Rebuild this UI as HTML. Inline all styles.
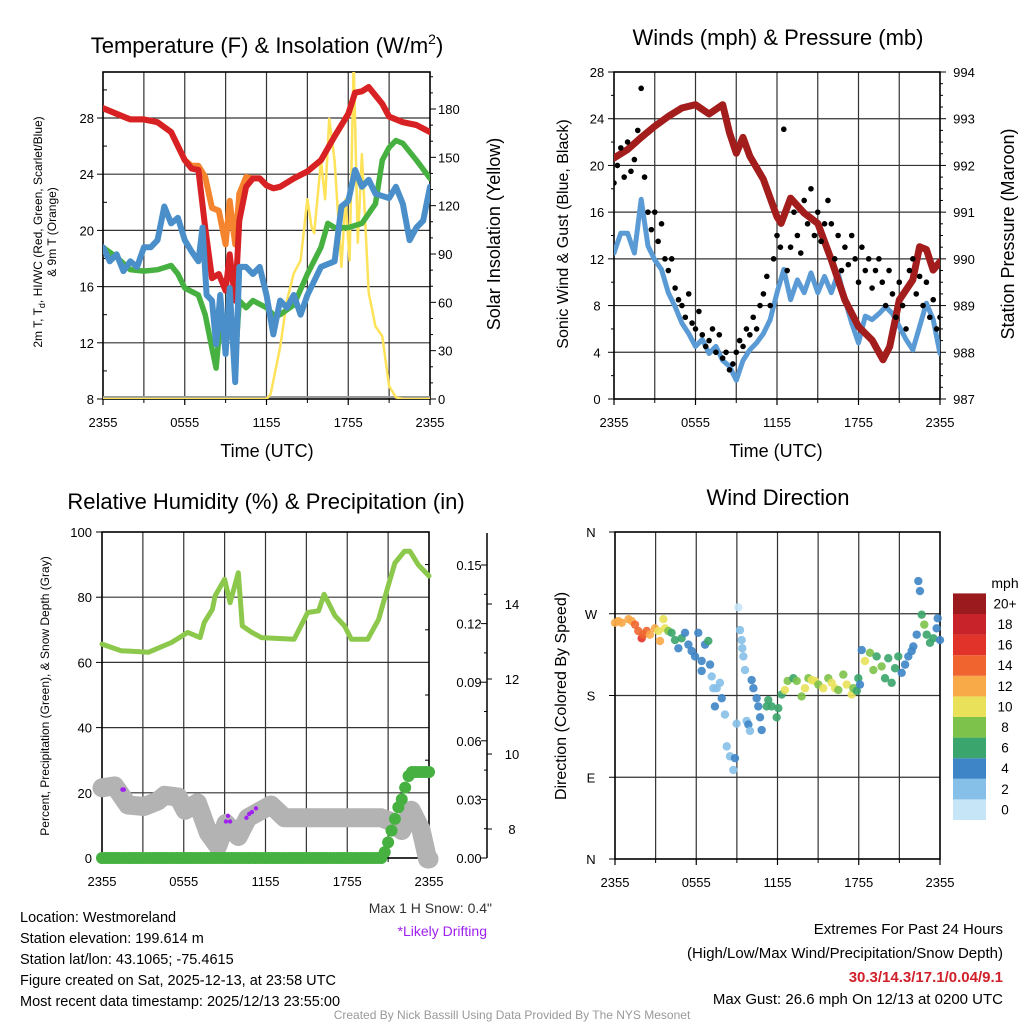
<!DOCTYPE html>
<html><head><meta charset="utf-8"><style>
html,body{margin:0;padding:0;background:#fff;}
svg{display:block;}
text{font-family:"Liberation Sans",sans-serif;}
</style></head><body>
<svg id="s" width="1024" height="1024" viewBox="0 0 1024 1024">
<defs>
<clipPath id="c1"><rect x="103" y="72" width="327" height="327"/></clipPath>
<clipPath id="c2"><rect x="614" y="72" width="326" height="327"/></clipPath>
<clipPath id="c3"><rect x="90" y="520" width="360" height="350"/></clipPath>
</defs>
<text x="267" y="53" font-size="22" text-anchor="middle">Temperature (F) &amp; Insolation (W/m<tspan font-size="14" dy="-9">2</tspan><tspan dy="9">)</tspan></text>
<text x="778" y="45" font-size="22" text-anchor="middle">Winds (mph) &amp; Pressure (mb)</text>
<text x="266" y="509" font-size="22" text-anchor="middle">Relative Humidity (%) &amp; Precipitation (in)</text>
<text x="778" y="505" font-size="22" text-anchor="middle">Wind Direction</text>
<text x="267" y="457" font-size="18" text-anchor="middle">Time (UTC)</text>
<text x="776" y="457" font-size="18" text-anchor="middle">Time (UTC)</text>
<text transform="translate(42,232) rotate(-90)" font-size="12" text-anchor="middle">2m T, T<tspan font-size="9" dy="3">d</tspan><tspan dy="-3">, HI/WC (Red, Green, Scarlet/Blue)</tspan></text>
<text transform="translate(56,232) rotate(-90)" font-size="12" text-anchor="middle">&amp; 9m T (Orange)</text>
<text transform="translate(500,234) rotate(-90)" font-size="18" text-anchor="middle">Solar Insolation (Yellow)</text>
<text transform="translate(568,234) rotate(-90)" font-size="16" text-anchor="middle">Sonic Wind &amp; Gust (Blue, Black)</text>
<text transform="translate(1014,234) rotate(-90)" font-size="18" text-anchor="middle">Station Pressure (Maroon)</text>
<text transform="translate(49,696) rotate(-90)" font-size="12" text-anchor="middle">Percent, Precipitation (Green), &amp; Snow Depth (Gray)</text>
<text transform="translate(566,696) rotate(-90)" font-size="16" text-anchor="middle">Direction (Colored By Speed)</text>
<text x="492" y="913" font-size="14" text-anchor="end" fill="#333">Max 1 H Snow: 0.4"</text>
<text x="487" y="936" font-size="14" text-anchor="end" fill="#a020f0">*Likely Drifting</text>
<g font-size="14.5">
<text x="20" y="922">Location: Westmoreland</text>
<text x="20" y="943">Station elevation: 199.614 m</text>
<text x="20" y="964">Station lat/lon: 43.1065; -75.4615</text>
<text x="20" y="985">Figure created on Sat, 2025-12-13, at 23:58 UTC</text>
<text x="20" y="1006">Most recent data timestamp: 2025/12/13 23:55:00</text>
</g>
<g font-size="15" text-anchor="end">
<text x="1003" y="934">Extremes For Past 24 Hours</text>
<text x="1003" y="958">(High/Low/Max Wind/Precipitation/Snow Depth)</text>
<text x="1003" y="982" fill="#d0202a" font-weight="bold">30.3/14.3/17.1/0.04/9.1</text>
<text x="1003" y="1004">Max Gust: 26.6 mph On 12/13 at 0200 UTC</text>
</g>
<text x="512" y="1019" font-size="12" text-anchor="middle" fill="#999">Created By Nick Bassill Using Data Provided By The NYS Mesonet</text>
<text x="1005" y="588" font-size="14" text-anchor="middle">mph</text>
</svg>
<script>
const NS='http://www.w3.org/2000/svg';
const svg=document.getElementById('s');
// ---------- data ----------
const xTickLabels=['2355','0555','1155','1755','2355'];
const tempTimes=[0,1,2,3,4,5,6,6.5,7,7.5,8,8.5,9,9.3,9.7,10,10.5,11,11.5,12,12.5,13,14,15,16,17,18,18.5,19,19.5,20,20.5,21,22,23,24];
const redTemp=[28.7,28.3,27.9,27.9,27.7,27.0,25.0,24.4,24.3,20.2,16.6,16.9,15.7,18.3,15.0,20.7,23.1,23.7,23.7,23.2,23.0,23.1,23.7,24.2,25.0,26.7,28.3,29.8,29.9,30.2,29.6,29.0,28.1,27.7,27.5,27.0];
const orangeTemp=[28.7,28.3,27.9,27.9,27.7,27.0,25.0,24.6,24.6,23.8,21.6,21.4,19.0,22.1,19.0,22.6,23.8,23.7,23.7,23.2,23.0,23.1,23.7,24.2,25.0,26.7,28.3,29.8,29.9,30.2,29.6,29.0,28.1,27.7,27.5,27.0];
const greenTimes=[0,1,2,3,4,5,5.5,6,7,7.5,8,8.3,8.6,9,9.3,9.7,10,10.5,11,12,12.5,13,14,15,16,16.5,17,18,19,20,20.5,21,21.5,22,23,24];
const greenTemp=[18.8,18.1,17.2,17.1,17.2,17.5,16.9,15.9,15.4,14.0,11.6,10.2,13.5,12.3,14.0,10.7,15.0,14.5,15.0,14.5,14.0,14.0,14.7,16.9,18.8,20.5,20.2,20.2,20.5,21.9,25.0,25.9,26.4,26.2,25.0,23.7];
const blueTimes=[0,0.5,1,1.5,2,2.5,3,3.5,4,4.5,5,5.5,6,6.5,7,7.3,7.6,8,8.3,8.6,9,9.3,9.7,10,10.5,11,11.5,12,12.5,13,13.5,14,14.5,15,15.5,16,17,17.5,18,18.5,19,19.5,20,21,21.5,22,22.5,23,23.5,24];
const blueTemp=[18.8,17.8,18.3,17.1,17.8,17.4,18.8,18.8,19.3,21.7,20.5,20.9,19.3,18.5,17.8,20.2,15.4,15.0,11.9,15.4,11.2,15.9,9.2,17.4,17.4,16.9,17.4,15.4,12.6,15.0,14.5,15.4,14.0,15.4,16.4,17.4,17.8,21.7,22.1,24.3,23.1,23.6,22.6,22.3,23.1,21.9,19.3,20.2,20.7,23.1];
const solarTimes=[0,12,12.3,13,13.5,14,14.5,15,15.3,15.5,16,16.3,16.6,17,17.5,17.8,18.1,18.4,18.7,19,19.5,20,20.5,21,21.5,22,24];
const solarVals=[0,0,3,32,61,78,86,124,107,103,148,124,174,148,82,124,86,210,97,152,66,45,39,8,1,0,0];
const tempTicks=[8,12,16,20,24,28];
const solarTicks=[0,30,60,90,120,150,180];
const windVals=[12.5,14.2,14.2,12.5,17.1,13.1,11.9,11.1,9.1,7.9,6.5,5.6,4.5,5.1,3.9,4.5,3.3,2.8,1.6,3.3,4.2,4.8,5.6,6.8,9.1,11.1,8.5,10.2,9.1,10.8,9.1,10.5,9.1,10.8,8.5,6.5,4.8,7.1,6.8,7.3,7.9,7.3,6.2,5.1,4.2,6.2,8.2,6.8,3.9];
const gustVals=[18.5,20,21.5,19,22,19.5,20.5,23,26.6,19,16,14.5,16,13.5,15,12,11,12,9.5,8.5,8,7,9,6.5,6,7.5,5.5,4.5,5,6,4,5.5,3.5,4,2.5,3,4,5,4.5,6,5.5,7,6,8,9,10.5,8,12,14,13,23.1,11,13,16,14,12.5,17,15,18,14,16,13.5,15,17,15,12,14,11,13,11.5,14,12,10,13,11,12,9.5,11,12,10,8,11,9,7,10,8,6,11,12,9,10.5,8,10,7,8.5,6,7];
const pressTimes=[0,1,2,3,4,5,6,7,8,8.5,9,9.5,10,11,12,12.3,13,14,15,16,17,18,19,19.8,20.3,21,22,22.5,23,23.5,24];
const pressVals=[992.16,992.34,992.6,992.84,993.05,993.23,993.3,993.1,993.3,992.7,992.26,992.6,992.2,991.7,990.9,990.76,991.3,990.98,990.76,989.98,989.12,988.55,988.26,987.84,988.12,989.12,989.55,990.26,990.2,989.76,989.94];
const windTicks=[0,4,8,12,16,20,24,28];
const pressTicks=[987,988,989,990,991,992,993,994];
const rhTimes=[0,1.4,3.4,5.1,6.3,7.2,7.5,8.1,8.3,9.0,9.4,10.0,10.3,11.0,11.7,14.1,15.1,15.9,16.3,17.1,17.8,18.3,19.5,20.3,21.0,21.5,22.2,22.6,23.2,24];
const rhVals=[65.6,63.6,63.1,66.1,69.2,67.6,72.2,76.3,80.4,85.5,78.3,87.5,71.2,69.2,67.6,67.1,75.3,75.8,80.9,74.3,71.2,67.1,67.1,73.2,83.4,90.5,94.1,94.1,90,86.5];
const snowTimes=[0,0.93,1.9,3.1,4.1,4.6,5.6,6.1,7.0,7.8,8.5,9.1,10.0,10.7,11.7,12.4,13.4,20.5,21.2,22.0,22.7,23.4,23.9,24];
const snowVals=[9.1,9.15,8.64,8.6,8.75,8.9,8.85,8.5,8.7,7.9,7.55,8.15,7.8,8.3,8.5,8.64,8.3,8.3,8.2,7.96,8.5,8.0,7.2,7.2];
const driftTimes=[1.5,1.6,9.1,9.25,9.4,10.6,10.8,11.0,11.3];
const driftVals=[9.05,9.05,8.2,8.35,8.2,8.3,8.4,8.45,8.55];
const precipVals=[0,0,0,0,0,0,0,0,0,0,0,0,0,0,0,0,0,0,0,0,0,0,0,0,0,0,0,0,0,0,0,0,0,0,0,0,0,0,0,0,0,0,0,0,0,0,0,0,0,0,0,0,0,0,0,0,0,0,0,0,0,0,0,0,0,0,0,0,0,0,0,0,0,0,0,0,0,0,0,0,0,0,0,0.003,0.008,0.014,0.02,0.026,0.03,0.036,0.042,0.044,0.044,0.044,0.044,0.044,0.044];
const rhTicks=[0,20,40,60,80,100];
const precipTicks=[0,0.03,0.06,0.09,0.12,0.15];
const snowTicks=[8,10,12,14];
const dirTimes=[0,0.25,0.5,1.0,1.23,1.48,1.72,1.97,2.09,2.34,2.58,2.95,3.2,3.32,3.57,3.69,3.94,4.18,4.43,4.68,4.92,5.17,5.42,5.66,5.91,6.15,6.4,6.4,6.65,6.89,7.02,7.14,7.26,7.51,7.75,7.88,7.38,8.12,8.25,8.49,8.74,8.86,8.98,9.11,9.23,9.35,9.4,9.48,9.6,9.72,9.85,9.97,10.09,10.22,10.46,10.58,10.71,10.83,11.2,11.32,11.57,11.94,12.06,12.31,12.55,12.75,13.17,13.42,13.78,14.03,14.28,14.52,14.77,15.02,15.38,15.75,16.0,16.25,16.49,16.86,17.11,17.48,17.6,17.85,17.97,18.09,18.22,18.46,18.83,19.08,19.32,19.69,19.94,20.18,20.43,20.68,20.92,21.17,21.42,21.66,21.91,22.03,22.28,22.4,22.52,22.65,22.84,23.02,23.26,23.51,23.75,23.83,24];
const dirVals=[260,262,260,264,262,258,251,243,247,251,247,254,251,240,264,254,251,249,241,232,243,249,236,229,223,249,218,207,236,240,214,201,188,188,194,177,168,159,124,113,98,111,149,277,252,241,232,223,208,152,148,141,197,188,177,168,156,142,168,175,168,156,166,181,186,196,199,196,179,188,199,197,196,192,188,199,194,188,186,203,192,181,188,185,199,192,230,218,227,208,223,212,199,221,194,210,223,205,214,223,229,234,247,306,295,269,258,247,238,243,254,265,241];
const dirSpeed=[12,13,13,13,12,14,14,16,14,15,12,12,10,12,10,10,8,7,7,4,6,4,4,4,4,4,4,4,4,6,4,3,3,3,3,4,4,3,3,3,3,4,2,1,3,3,2,2,2,2,4,2,4,4,4,4,4,4,6,6,6,6,7,7,10,8,6,8,8,10,9,10,10,9,10,8,10,10,8,8,10,10,9,6,6,4,4,10,8,8,6,8,6,6,6,6,6,4,4,4,4,4,4,4,4,6,8,7,6,6,4,4,4];
const dirTickLabels=['N','E','S','W','N'];
const speedLabels=['0','2','4','6','8','10','12','14','16','18','20+'];
const speedColors=['#c6e6f8','#86bfe8','#3d85c6','#3aa56c','#7dc24a','#e8e159','#f8a948','#f0652f','#e2332a','#c8232a','#9b1a1d'];

// ---------- helpers ----------
function mk(tag,attrs,parent,name,inter){
  const el=document.createElementNS(NS,tag);
  for(const k in attrs) el.setAttribute(k,attrs[k]);
  
  
  (parent||svg).appendChild(el);
  return el;
}
function lin(d0,d1,r0,r1){return v=>r0+(v-d0)*(r1-r0)/(d1-d0);}
function pathOf(xs,ys,fx,fy){return xs.map((t,i)=>(i?'L':'M')+fx(t).toFixed(1)+','+fy(ys[i]).toFixed(1)).join('');}

function frame(P,name,hTicks,fy){
  const g=mk('g',{},svg,name+'-frame',false);
  for(let h=3;h<24;h+=3){const x=P.fx(h);
    mk('line',{x1:x,x2:x,y1:P.y0,y2:P.y1,stroke:'#333','stroke-width':1.2},g,name+'-vgrid',false);}
  hTicks.forEach(v=>{const y=fy(v);
    mk('line',{x1:P.x0,x2:P.x1,y1:y,y2:y,stroke:'#333','stroke-width':1.2},g,name+'-hgrid',false);});
  mk('rect',{x:P.x0,y:P.y0,width:P.x1-P.x0,height:P.y1-P.y0,fill:'none',stroke:'#000','stroke-width':1.6},g,name+'-border',false);
  xTickLabels.forEach((l,i)=>{const x=P.fx(i*6);
    mk('line',{x1:x,x2:x,y1:P.y1,y2:P.y1+6,stroke:'#000','stroke-width':1.2},g,name+'-x-tick',false);
    const t=mk('text',{x:x,y:P.y1+28,'font-size':13,'text-anchor':'middle'},g,name+'-x-tick-label',false);t.textContent=l;});
  for(let h=3;h<24;h+=6){const x=P.fx(h);mk('line',{x1:x,x2:x,y1:P.y1,y2:P.y1+4,stroke:'#000'},g,name+'-x-minor-tick',false);}
  return g;
}

// ---------- Panel 1 ----------
const P1={x0:103,x1:430,y0:72,y1:399};P1.fx=lin(0,24,P1.x0,P1.x1);
const fT=lin(8,28,399,118), fS=lin(0,180,399,109);
frame(P1,'temp',tempTicks.slice(1),fT);
const a1=mk('g',{},svg,'temp-axes',false);
tempTicks.forEach(v=>{const y=fT(v);
  mk('line',{x1:P1.x0-6,x2:P1.x0,y1:y,y2:y,stroke:'#000'},a1,'temp-y-tick',false);
  const t=mk('text',{x:P1.x0-9,y:y+5,'font-size':13,'text-anchor':'end'},a1,'temp-y-tick-label',false);t.textContent=v;});
for(let v=10;v<31;v+=4){const y=fT(v);mk('line',{x1:P1.x0,x2:P1.x0+4,y1:y,y2:y,stroke:'#000'},a1,'temp-y-minor-tick',false);}
for(let v=0;v<=200;v+=10){const y=fS(v);mk('line',{x1:P1.x1,x2:P1.x1+(v%30?3:6),y1:y,y2:y,stroke:'#000'},a1,'solar-y-tick',false);}
solarTicks.forEach(v=>{const t=mk('text',{x:P1.x1+8,y:fS(v)+5,'font-size':13},a1,'solar-y-tick-label',false);t.textContent=v;});
const s1=mk('g',{'clip-path':'url(#c1)',fill:'none','stroke-linejoin':'round','stroke-linecap':'round'},svg,'temp-series',false);
mk('line',{x1:P1.x0,x2:P1.x1,y1:397,y2:397,stroke:'#999','stroke-width':2},s1,'solar-zero-line',false);
mk('path',{d:pathOf(solarTimes,solarVals,P1.fx,fS),stroke:'#fde25a','stroke-width':2.5},s1,'solar-line',false);
mk('path',{d:pathOf(greenTimes,greenTemp,P1.fx,fT),stroke:'#46b140','stroke-width':5.5},s1,'wind-chill-line',false);
mk('path',{d:pathOf(tempTimes,orangeTemp,P1.fx,fT),stroke:'#f5842e','stroke-width':6},s1,'temp-9m-line',false);
mk('path',{d:pathOf(tempTimes,redTemp,P1.fx,fT),stroke:'#d82125','stroke-width':6},s1,'temp-2m-line',false);
mk('path',{d:pathOf(blueTimes,blueTemp,P1.fx,fT),stroke:'#4a8fc9','stroke-width':6},s1,'dewpoint-line',false);

// ---------- Panel 2 ----------
const P2={x0:614,x1:940,y0:72,y1:399};P2.fx=lin(0,24,P2.x0,P2.x1);
const fW=lin(0,28,399,72), fP=lin(987,994,399,72);
frame(P2,'wind',windTicks.slice(1,7),fW);
const a2=mk('g',{},svg,'wind-axes',false);
windTicks.forEach(v=>{const y=fW(v);
  mk('line',{x1:P2.x0-6,x2:P2.x0,y1:y,y2:y,stroke:'#000'},a2,'wind-y-tick',false);
  const t=mk('text',{x:P2.x0-17,y:y+5,'font-size':13,'text-anchor':'middle'},a2,'wind-y-tick-label',false);t.textContent=v;});
for(let v=2;v<28;v+=4){const y=fW(v);mk('line',{x1:P2.x0-3,x2:P2.x0,y1:y,y2:y,stroke:'#000'},a2,'wind-y-minor-tick',false);}
for(let v=987;v<=994.001;v+=0.25){const y=fP(v);mk('line',{x1:P2.x1,x2:P2.x1+(Math.abs(v-Math.round(v))<0.01?6:3),y1:y,y2:y,stroke:'#000'},a2,'pressure-y-tick',false);}
pressTicks.forEach(v=>{const t=mk('text',{x:P2.x1+24,y:fP(v)+5,'font-size':13,'text-anchor':'middle'},a2,'pressure-y-tick-label',false);t.textContent=v;});
const s2=mk('g',{'clip-path':'url(#c2)',fill:'none','stroke-linejoin':'round','stroke-linecap':'round'},svg,'wind-series',false);
mk('path',{d:pathOf(windVals.map((v,i)=>i*0.5),windVals,P2.fx,fW),stroke:'#5b9bd5','stroke-width':5},s2,'sonic-wind-line',false);
mk('path',{d:pathOf(pressTimes,pressVals,P2.fx,fP),stroke:'#a31d1d','stroke-width':7},s2,'pressure-line',false);
gustVals.forEach((v,i)=>{
  mk('circle',{cx:P2.fx(i*0.25),cy:fW(v),r:2.8,fill:'#000'},s2,'gust-point',false);
});

// ---------- Panel 3 ----------
const P3={x0:102,x1:429,y0:532,y1:858};P3.fx=lin(0,24,P3.x0,P3.x1);
const fR=lin(0,100,858,532), fPr=lin(0,0.15,858,565), fSn=lin(8,14,829,604);
frame(P3,'humidity',rhTicks.slice(1,5),fR);
const a3=mk('g',{},svg,'humidity-axes',false);
rhTicks.forEach(v=>{const y=fR(v);
  mk('line',{x1:P3.x0-6,x2:P3.x0,y1:y,y2:y,stroke:'#000'},a3,'rh-y-tick',false);
  const t=mk('text',{x:P3.x0-10,y:y+5,'font-size':13,'text-anchor':'end'},a3,'rh-y-tick-label',false);t.textContent=v;});
for(let v=10;v<100;v+=20){const y=fR(v);mk('line',{x1:P3.x1,x2:P3.x1-4,y1:y,y2:y,stroke:'#000'},a3,'rh-y-minor-tick',false);}
mk('line',{x1:487,x2:487,y1:533,y2:858,stroke:'#000','stroke-width':1.5},a3,'precip-axis-spine',false);
precipTicks.forEach(v=>{const y=fPr(v);
  mk('line',{x1:481,x2:487,y1:y,y2:y,stroke:'#000'},a3,'precip-y-tick',false);
  const t=mk('text',{x:469,y:y+5,'font-size':13,'text-anchor':'middle'},a3,'precip-y-tick-label',false);t.textContent=v.toFixed(2);});
for(let v=0.015;v<0.16;v+=0.03){const y=fPr(v);mk('line',{x1:484,x2:487,y1:y,y2:y,stroke:'#000'},a3,'precip-y-minor-tick',false);}
snowTicks.forEach(v=>{const y=fSn(v);
  mk('line',{x1:487,x2:492,y1:y,y2:y,stroke:'#000'},a3,'snow-y-tick',false);
  const t=mk('text',{x:512,y:y+5,'font-size':13,'text-anchor':'middle'},a3,'snow-y-tick-label',false);t.textContent=v;});
const s3=mk('g',{'clip-path':'url(#c3)',fill:'none','stroke-linejoin':'round','stroke-linecap':'round'},svg,'humidity-series',false);
mk('path',{d:pathOf(rhTimes,rhVals,P3.fx,fR),stroke:'#8cc84b','stroke-width':5},s3,'rh-line',false);
mk('path',{d:pathOf(snowTimes,snowVals,P3.fx,fSn),stroke:'#b3b3b3','stroke-width':19},s3,'snow-depth-line',false);
driftTimes.forEach((t,i)=>{
  mk('circle',{cx:P3.fx(t),cy:fSn(driftVals[i]),r:2.2,fill:'#a020f0'},s3,'drift-point',false);
});
precipVals.forEach((v,i)=>{
  mk('circle',{cx:P3.fx(i*0.25),cy:fPr(v),r:6,fill:'#46b140'},s3,'precip-point',false);
});

// ---------- Panel 4 ----------
const P4={x0:615,x1:940,y0:532,y1:859};P4.fx=lin(0,24,P4.x0,P4.x1);
const fD=lin(0,360,859,532);
frame(P4,'direction',[90,180,270],fD);
const a4=mk('g',{},svg,'direction-axes',false);
dirTickLabels.forEach((l,i)=>{const y=fD(i*90);
  mk('line',{x1:P4.x0-6,x2:P4.x0,y1:y,y2:y,stroke:'#000'},a4,'direction-y-tick',false);
  const t=mk('text',{x:P4.x0-24,y:y+5,'font-size':13,'text-anchor':'middle'},a4,'direction-y-tick-label',false);t.textContent=l;});
const s4=mk('g',{},svg,'direction-series',false);
dirTimes.forEach((t,i)=>{
  const c=speedColors[Math.min(10,Math.floor(dirSpeed[i]/2))];
  mk('circle',{cx:P4.fx(t),cy:fD(dirVals[i]),r:4.2,fill:c,'fill-opacity':0.9},s4,'direction-point',false);
});
const cb=mk('g',{},svg,'speed-colorbar',false);
speedColors.forEach((c,i)=>{const y=820-(i+1)*20.6;
  mk('rect',{x:953,y:y,width:33,height:20.6,fill:c},cb,'colorbar-swatch',false);
  const t=mk('text',{x:1005,y:y+15,'font-size':13.5,'text-anchor':'middle'},cb,'colorbar-label',false);t.textContent=speedLabels[i];});
</script>
</body></html>
